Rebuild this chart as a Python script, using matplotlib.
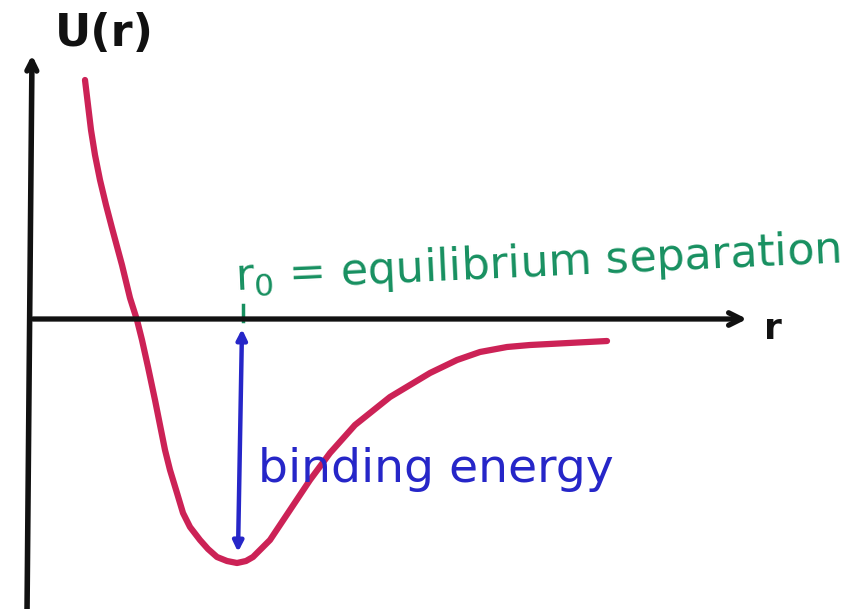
import matplotlib
matplotlib.use("Agg")
import matplotlib.pyplot as plt

# Potential energy curve U(r) (arbitrary units)
r_vals = [0.55, 0.58, 0.61, 0.65, 0.70, 0.76, 0.82, 0.92, 1.00, 1.07, 1.12, 1.18, 1.25,
          1.30, 1.35, 1.40, 1.47, 1.53, 1.60, 1.70, 1.78, 1.87, 1.97, 2.07, 2.16, 2.23,
          2.40, 2.60, 2.80, 3.00, 3.25, 3.60, 4.00, 4.27, 4.50, 4.77, 5.00, 5.77]
U_vals = [2.39, 2.14, 1.89, 1.64, 1.39, 1.14, 0.91, 0.54, 0.21, -0.01, -0.21, -0.48, -0.81,
          -1.06, -1.31, -1.51, -1.74, -1.94, -2.08, -2.21, -2.30, -2.38, -2.42, -2.44, -2.42, -2.38,
          -2.21, -1.91, -1.61, -1.34, -1.06, -0.78, -0.54, -0.41, -0.33, -0.28, -0.26, -0.22]

r0 = 2.10            # equilibrium separation
U_min = -2.33        # depth reached by binding-energy arrow
y_label = "U(r)"
x_label = "r"
r0_text = "r$_0$ = equilibrium separation"
be_text = "binding energy"

RED = "#cc2256"
GREEN = "#179060"
BLUE = "#2626c8"
BLACK = "#111111"

fig = plt.figure(figsize=(8.56, 6.09), dpi=100)
ax = fig.add_axes([0, 0, 1, 1])
ax.set_xlim(-0.30, 8.26)
ax.set_ylim(-2.90, 3.19)
ax.axis("off")

# axes (hand-drawn style arrows)
ax.annotate("", xy=(0.02, 2.64), xytext=(-0.03, -2.95),
            arrowprops=dict(arrowstyle="->,head_length=0.7,head_width=0.35", color=BLACK, lw=4,
                            shrinkA=0, shrinkB=0))
ax.annotate("", xy=(7.17, 0.0), xytext=(0.03, 0.0),
            arrowprops=dict(arrowstyle="->,head_length=0.9,head_width=0.45", color=BLACK, lw=3.8,
                            shrinkA=0, shrinkB=0))
ax.text(0.74, 2.86, y_label, fontsize=32, color=BLACK, ha="center", va="center",
        fontweight="bold")
ax.text(7.43, -0.10, x_label, fontsize=26, color=BLACK, ha="center", va="center",
        fontweight="bold")

# curve
ax.plot(r_vals, U_vals, color=RED, lw=4.5, solid_capstyle="round", solid_joinstyle="round")

# r0 tick and label
ax.plot([r0 + 0.03, r0 + 0.03], [0.14, -0.02], color=GREEN, lw=2.5)
ax.text(2.04, 0.18, r0_text, fontsize=32, color=GREEN, ha="left", va="bottom", rotation=2.6)

# binding energy double arrow
ax.annotate("", xy=(r0 - 0.02, U_min), xytext=(r0 + 0.02, -0.10),
            arrowprops=dict(arrowstyle="<|-|>,head_length=0.6,head_width=0.3", color=BLUE, lw=3.2,
                            shrinkA=0, shrinkB=0))
ax.text(2.28, -1.51, be_text, fontsize=34, color=BLUE, ha="left", va="center")

fig.savefig("out.png", dpi=100, facecolor="white")
